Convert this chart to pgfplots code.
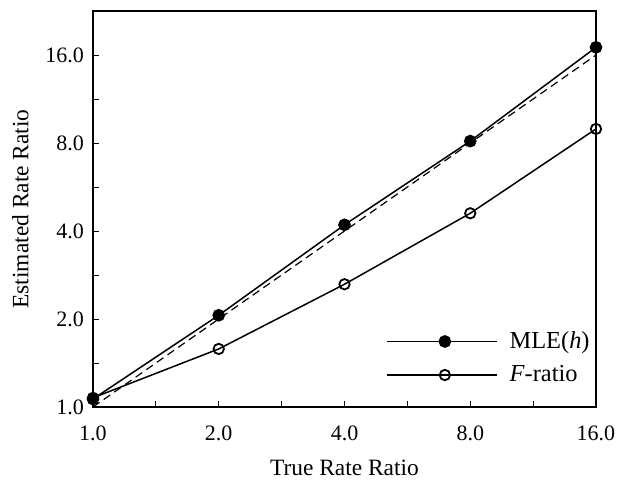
\documentclass[border=0pt]{standalone}
\usepackage{pgfplots}
\pgfplotsset{compat=1.18}
\usepackage{fontspec}
\setmainfont{Liberation Serif}
\begin{document}
\begin{tikzpicture}
\begin{loglogaxis}[
  scale only axis, width=251.5pt, height=198pt,
  log basis x=2, log basis y=2,
  xmin=1, xmax=16, ymin=1, ymax=22.63,
  xtick={1,2,4,8,16}, xticklabels={1.0,2.0,4.0,8.0,16.0},
  ytick={1,2,4,8,16}, yticklabels={1.0,2.0,4.0,8.0,16.0},
  extra x ticks={1.4142,2.8284,5.6569,11.3137}, extra x tick labels={},
  extra y ticks={1.4142,2.8284,5.6569,11.3137}, extra y tick labels={},
  xtick pos=bottom, ytick pos=left, tick align=inside,
  major tick length=3pt,
  tick style={black, line width=0.5pt},
  axis line style={line width=1pt},
  /pgf/number format/assume math mode=true,
  tick label style={font=\fontsize{11}{13}\selectfont},
  xticklabel style={yshift=-6pt},
  yticklabel style={xshift=-1pt},
  label style={font=\fontsize{11.7}{14}\selectfont},
  xlabel={True Rate Ratio}, ylabel={Estimated Rate Ratio},
  xlabel style={yshift=-2.5pt}, ylabel style={yshift=1.5pt},
  legend style={draw=none, fill=none, at={(1,0)}, anchor=south east,
    xshift=-1pt, yshift=9pt, inner sep=0pt, row sep=3pt, column sep=4pt,
    font=\fontsize{12.2}{14}\selectfont},
  legend cell align=left,
  legend image code/.code={\draw[mark repeat=2,mark phase=2,#1] plot coordinates {(0pt,0pt)(29pt,0pt)(55pt,0pt)};},
]
\addplot[black, line width=0.75pt, mark=*, mark size=2.8pt, mark options={solid, fill=black}]
  coordinates {(1,1.065)(2,2.06)(4,4.2)(8,8.12)(16,17.0)};
\addlegendentry{MLE(\textit{h})}
\addplot[black, line width=0.75pt, mark=o, mark size=2.6pt, mark options={solid, fill=white, line width=0.9pt}]
  coordinates {(1,1.075)(2,1.58)(4,2.63)(8,4.6)(16,8.94)};
\addlegendentry{\textit{F}-ratio}
\addplot[black, line width=0.6pt, dash pattern=on 4pt off 2.5pt, forget plot]
  coordinates {(1,1)(16,16)};
\end{loglogaxis}
\pgfresetboundingbox
\path ([shift={(-46.5pt,-36.5pt)}]current axis.south west) rectangle ([shift={(14pt,5.5pt)}]current axis.north east);
\end{tikzpicture}
\end{document}
